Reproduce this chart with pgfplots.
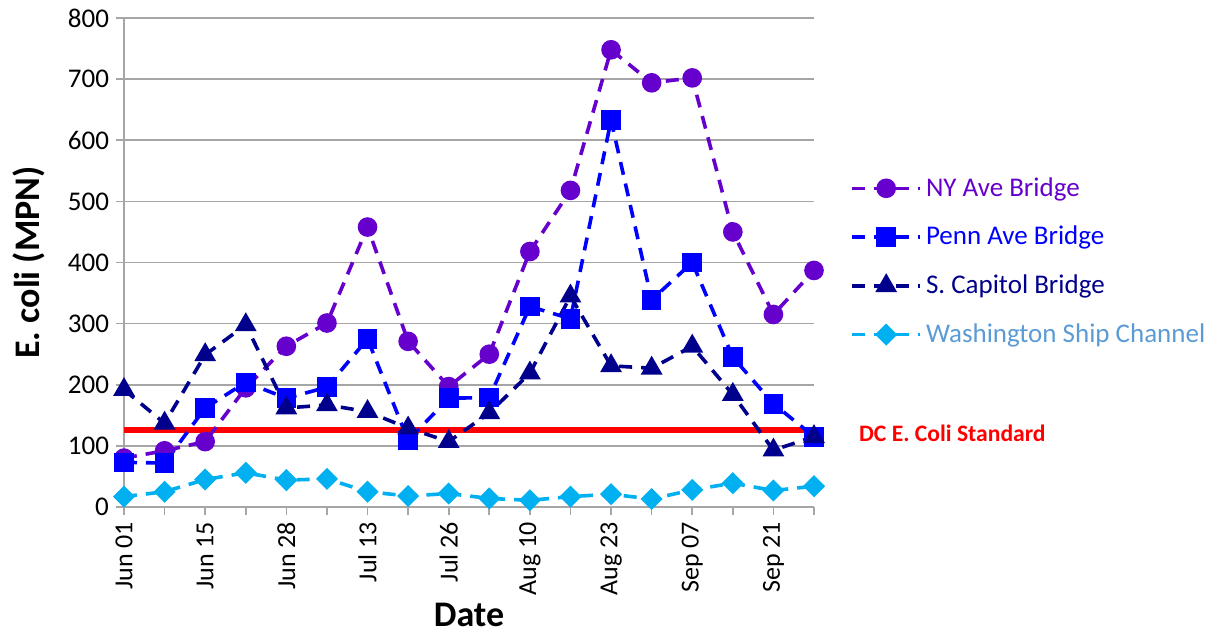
\documentclass[border=0pt]{standalone}
\usepackage{pgfplots}
\pgfplotsset{compat=1.18}
\usepackage{fontspec}
\setmainfont{Carlito}
\definecolor{nyc}{RGB}{102,0,204}
\definecolor{pennc}{RGB}{0,0,255}
\definecolor{scapc}{RGB}{0,0,140}
\definecolor{washc}{RGB}{0,176,240}
\definecolor{washtxt}{RGB}{91,155,213}
\definecolor{gridc}{RGB}{166,166,166}
\begin{document}
\begin{tikzpicture}
\begin{axis}[
  scale only axis, width=345pt, height=244.5pt,
  at={(0,0)}, anchor=south west,
  xmin=0, xmax=17, ymin=0, ymax=800,
  axis x line*=bottom, axis y line*=left,
  axis line style={gridc, line width=0.8pt},
  every tick/.style={gridc, line width=0.8pt},
  tick align=outside, major tick length=4pt,
  xtick={0,...,17},
  xticklabels={Jun 01,,Jun 15,,Jun 28,,Jul 13,,Jul 26,,Aug 10,,Aug 23,,Sep 07,,Sep 21,},
  xticklabel style={rotate=90, anchor=east, font=\fontsize{13}{15}\selectfont},
  ytick={0,100,...,800},
  yticklabel style={font=\fontsize{13.5}{15}\selectfont},
  /pgf/number format/assume math mode=true,
  ymajorgrids, major grid style={gridc, line width=0.8pt},
  xlabel={\bfseries Date}, ylabel={\bfseries E. coli (MPN)},
  xlabel style={font=\fontsize{18}{20}\selectfont, at={(axis description cs:0.5,-0.221)}, anchor=center},
  ylabel style={font=\fontsize{18}{20}\selectfont, at={(axis description cs:-0.138,0.5)}, anchor=center},
  clip=false,
  every axis plot/.append style={line width=1.8pt, dash pattern=on 6.5pt off 4.5pt},
  legend image code/.code={\draw[mark repeat=2,mark phase=2,#1] plot coordinates {(0pt,0pt) (17pt,0pt) (34pt,0pt)};},
  legend style={at={(1,0.683)}, anchor=north west, xshift=18pt, draw=none, fill=none,
    font=\fontsize{13.5}{15}\selectfont, row sep=9.5pt, inner sep=0pt,
    nodes={inner sep=2pt}},
  legend cell align=left,
]
\addplot[red, solid, line width=2.6pt, forget plot] coordinates {(0,126) (17,126)};
\addplot[nyc, mark=*, mark size=4pt, mark options={solid}] coordinates {
(0,80) (1,92) (2,107) (3,195) (4,263) (5,301) (6,458) (7,271) (8,197)
(9,250) (10,418) (11,518) (12,748) (13,694) (14,702) (15,450) (16,315) (17,387)};
\addlegendentry{\textcolor{nyc}{NY Ave Bridge}}
\addplot[pennc, mark=square*, mark size=4pt, mark options={solid}] coordinates {
(0,73) (1,72) (2,162) (3,204) (4,178) (5,196) (6,275) (7,109) (8,178)
(9,179) (10,328) (11,308) (12,633) (13,339) (14,400) (15,245) (16,169) (17,115)};
\addlegendentry{\textcolor{pennc}{Penn Ave Bridge}}
\addplot[scapc, mark=triangle*, mark size=4.5pt, mark options={solid}] coordinates {
(0,192) (1,137) (2,249) (3,298) (4,162) (5,167) (6,156) (7,129) (8,107)
(9,154) (10,219) (11,345) (12,231) (13,227) (14,263) (15,184) (16,93) (17,115)};
\addlegendentry{\textcolor{scapc}{S. Capitol Bridge}}
\addplot[washc, mark=square*, mark size=3pt, mark options={solid, rotate=45}] coordinates {
(0,17) (1,25) (2,45) (3,56) (4,44) (5,46) (6,25) (7,18) (8,22)
(9,14) (10,11) (11,17) (12,21) (13,13) (14,28) (15,39) (16,27) (17,34)};
\addlegendentry{\textcolor{washtxt}{Washington Ship Channel}}
\node[anchor=west, xshift=19pt, text=red, font=\fontsize{11.8}{14}\selectfont\bfseries] at (axis cs:17,121) {DC E. Coli Standard};
\end{axis}
\pgfresetboundingbox
\useasboundingbox (-62pt,-63pt) rectangle (544.5pt,253.5pt);
\end{tikzpicture}
\end{document}
